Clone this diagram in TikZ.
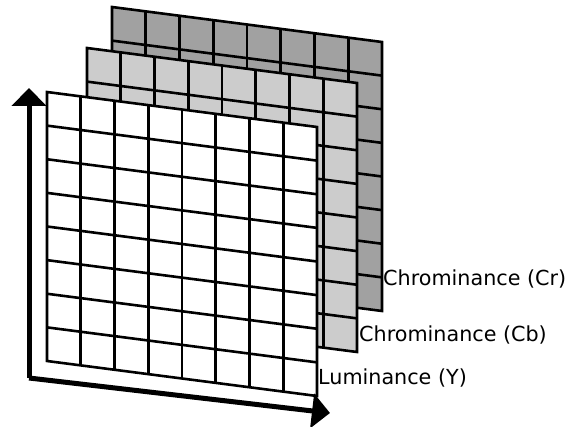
\documentclass[tikz,border=0pt]{standalone}
\usepackage{fontspec}
\setmainfont{DejaVu Sans}
\usetikzlibrary{arrows.meta}

\definecolor{crgray}{gray}{0.63}
\definecolor{cbgray}{gray}{0.80}

\tikzset{
  gridline/.style={line width=2.6pt, black, line join=miter},
  axis/.style={line width=5pt, black, line join=miter,
    -{Triangle[length=18pt,width=34pt]}},
  planelabel/.style={anchor=base west, inner sep=0pt,
    font=\fontsize{20.7}{24}\selectfont},
  % one 8x8 block of samples, drawn as a sheared square seen in perspective
  pics/plane/.style={code={
    \filldraw[gridline, fill=#1] (0,0) -- (270,35) -- (270,304) -- (0,269) -- cycle;
    \foreach \i in {1,...,7} {
      \draw[gridline] ({\i*33.75},{\i*4.375}) -- ++(0,269);
      \draw[gridline] (0,{\i*33.625}) -- ++(270,35);
    }
  }}
}

\begin{document}
\begin{tikzpicture}[x=1pt,y=-1pt]
  \useasboundingbox (0,0) rectangle (569,427);

  % the three planes, back to front
  \pic at (112,7) {plane=crgray};
  \pic at (87,48) {plane=cbgray};
  \pic at (47,92) {plane=white};

  % axes
  \coordinate (origin) at (29,378);
  \coordinate (ytip) at (29,88);
  \coordinate (xtip) at (330,413);
  \draw[axis] (origin) -- (ytip);
  \draw[axis] (origin) -- (xtip);

  % labels
  \node[planelabel] (cr) at (383,285) {Chrominance (Cr)};
  \node[planelabel] (cb) at (359,341) {Chrominance (Cb)};
  \node[planelabel] (lum) at (318,384) {Luminance (Y)};
\end{tikzpicture}
\end{document}
